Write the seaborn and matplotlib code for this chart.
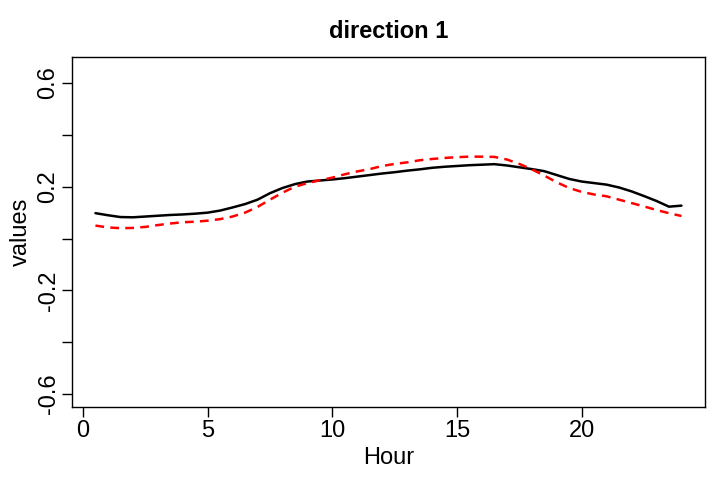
import numpy as np
import pandas as pd
import matplotlib
matplotlib.use("Agg")
import matplotlib.pyplot as plt
import seaborn as sns

# hours (half-hour steps) and the two curves
hours = [0.5, 1.0, 1.5, 2.0, 2.5, 3.0, 3.5, 4.0, 4.5, 5.0, 5.5, 6.0,
         6.5, 7.0, 7.5, 8.0, 8.5, 9.0, 9.5, 10.0, 10.5, 11.0, 11.5, 12.0,
         12.5, 13.0, 13.5, 14.0, 14.5, 15.0, 15.5, 16.0, 16.5, 17.0, 17.5, 18.0,
         18.5, 19.0, 19.5, 20.0, 20.5, 21.0, 21.5, 22.0, 22.5, 23.0, 23.5, 24.0]

black_vals = [0.098, 0.090, 0.083, 0.082, 0.085, 0.088, 0.091, 0.093, 0.096, 0.100, 0.108, 0.120,
              0.133, 0.150, 0.175, 0.195, 0.210, 0.220, 0.224, 0.228, 0.233, 0.239, 0.245, 0.251,
              0.256, 0.262, 0.267, 0.273, 0.277, 0.280, 0.283, 0.285, 0.287, 0.282, 0.275, 0.268,
              0.260, 0.245, 0.230, 0.220, 0.214, 0.208, 0.197, 0.182, 0.164, 0.145, 0.123, 0.127]

red_vals = [0.050, 0.043, 0.040, 0.041, 0.045, 0.052, 0.058, 0.063, 0.065, 0.069, 0.075, 0.085,
            0.100, 0.122, 0.150, 0.177, 0.200, 0.214, 0.225, 0.235, 0.248, 0.259, 0.268, 0.280,
            0.288, 0.294, 0.302, 0.307, 0.311, 0.314, 0.316, 0.316, 0.315, 0.305, 0.288, 0.267,
            0.243, 0.217, 0.195, 0.180, 0.170, 0.163, 0.150, 0.137, 0.124, 0.110, 0.098, 0.087]

df = pd.DataFrame({"Hour": hours, "black": black_vals, "red": red_vals})

sns.set_style("ticks")
plt.rcParams["font.family"] = ["Liberation Sans", "DejaVu Sans"]
plt.rcParams["text.color"] = "black"
plt.rcParams["axes.labelcolor"] = "black"
plt.rcParams["xtick.color"] = "black"
plt.rcParams["ytick.color"] = "black"

fig = plt.figure(figsize=(7.2, 4.8), dpi=100)
ax = fig.add_axes([0.1, 0.152, 0.879, 0.729])

sns.lineplot(data=df, x="Hour", y="black", ax=ax, color="black", linewidth=1.8)
sns.lineplot(data=df, x="Hour", y="red", ax=ax, color="red", linewidth=1.8)
ax.lines[1].set_dashes((3.5, 2.5))

ax.set_xlim(-0.44, 24.94)
ax.set_ylim(-0.65, 0.70)

ax.set_xticks([0, 5, 10, 15, 20])
ax.set_xticklabels(["0", "5", "10", "15", "20"])
yt = [-0.6, -0.4, -0.2, 0.0, 0.2, 0.4, 0.6]
ax.set_yticks(yt)
ax.set_yticklabels(["-0.6", "", "-0.2", "", "0.2", "", "0.6"], rotation=90, va="center")

ax.tick_params(axis="both", direction="out", length=7, width=1, labelsize=17,
               colors="black", pad=2)
for s in ax.spines.values():
    s.set_visible(True)
    s.set_color("black")
    s.set_linewidth(1)

ax.set_title("direction 1", fontsize=17, fontweight="bold", pad=14, color="black")
ax.set_xlabel("Hour", fontsize=17, labelpad=4)
ax.set_ylabel("values", fontsize=17, labelpad=4)

fig.savefig("out.png", dpi=100)
